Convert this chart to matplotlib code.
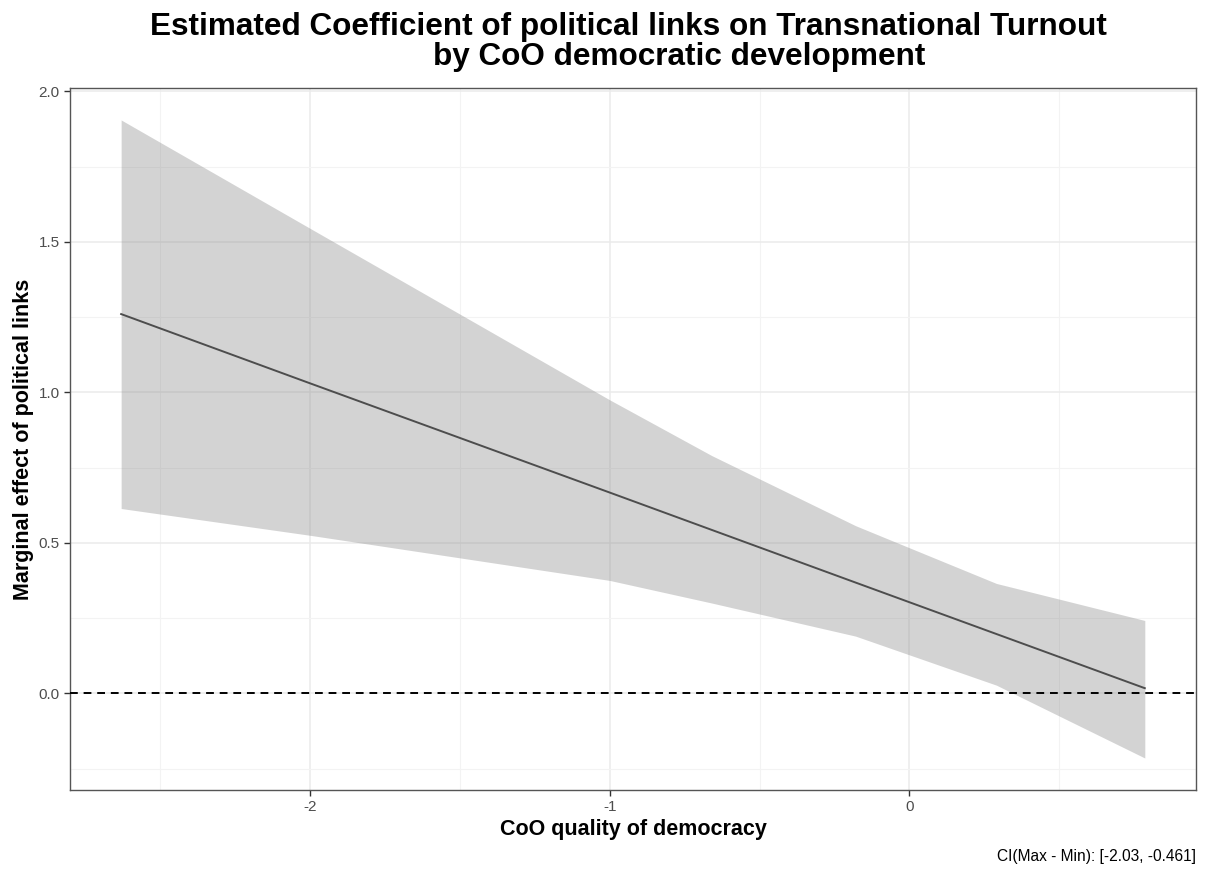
import matplotlib.pyplot as plt
from matplotlib.ticker import MultipleLocator

# values
democracy = [-2.63, -2.0, -1.0, -0.66, -0.18, 0.29, 0.785]
effect = [1.26, 1.03, 0.667, 0.543, 0.368, 0.197, 0.017]
ci_upper = [1.905, 1.545, 0.975, 0.79, 0.557, 0.365, 0.242]
ci_lower = [0.614, 0.525, 0.375, 0.30, 0.19, 0.027, -0.215]

x_ticks = [-2, -1, 0]
y_ticks = [0.0, 0.5, 1.0, 1.5, 2.0]

plt.rcParams['font.family'] = ['Liberation Sans', 'DejaVu Sans']

fig = plt.figure(figsize=(12.06, 8.69), dpi=100)
ax = fig.add_axes([0.058, 0.091, 0.9337, 0.8077])

ax.fill_between(democracy, ci_lower, ci_upper, color='grey', alpha=0.34,
                linewidth=0, zorder=2)
ax.plot(democracy, effect, color='#4d4d4d', linewidth=1.4, zorder=3)
ax.axhline(0, color='black', linestyle=(0, (4, 3)), linewidth=1.4, zorder=4)

# ggplot-like expansion (5%)
xr = democracy[-1] - democracy[0]
ax.set_xlim(democracy[0] - 0.05 * xr, democracy[-1] + 0.05 * xr)
yr = max(ci_upper) - min(ci_lower)
ax.set_ylim(min(ci_lower) - 0.05 * yr, max(ci_upper) + 0.05 * yr)

ax.set_xticks(x_ticks)
ax.set_xticklabels([str(t) for t in x_ticks])
ax.set_yticks(y_ticks)
ax.set_yticklabels(['%.1f' % t for t in y_ticks])
ax.xaxis.set_minor_locator(MultipleLocator(0.5))
ax.yaxis.set_minor_locator(MultipleLocator(0.25))

ax.grid(which='major', color='#ebebeb', linewidth=1.1, zorder=0)
ax.grid(which='minor', color='#f3f3f3', linewidth=0.8, zorder=0)
ax.set_axisbelow(True)
ax.tick_params(which='minor', length=0)
ax.tick_params(which='major', length=4, width=1, color='#333333',
               labelcolor='#4d4d4d', labelsize=11)
for s in ax.spines.values():
    s.set_color('#555555')
    s.set_linewidth(1)

ax.set_xlabel('CoO quality of democracy', fontsize=15.5, fontweight='bold', labelpad=3)
ax.set_ylabel('Marginal effect of political links', fontsize=15.5, fontweight='bold',
              labelpad=3)

fig.text(0.5207, 0.9597, 'Estimated Coefficient of political links on Transnational Turnout',
         ha='center', va='baseline', fontsize=22.7, fontweight='bold')
fig.text(0.563, 0.9252, 'by CoO democratic development',
         ha='center', va='baseline', fontsize=22.7, fontweight='bold')
fig.text(0.9917, 0.009, 'CI(Max - Min): [-2.03, -0.461]', ha='right', va='baseline',
         fontsize=11.2)

fig.savefig('out.png', dpi=100)
